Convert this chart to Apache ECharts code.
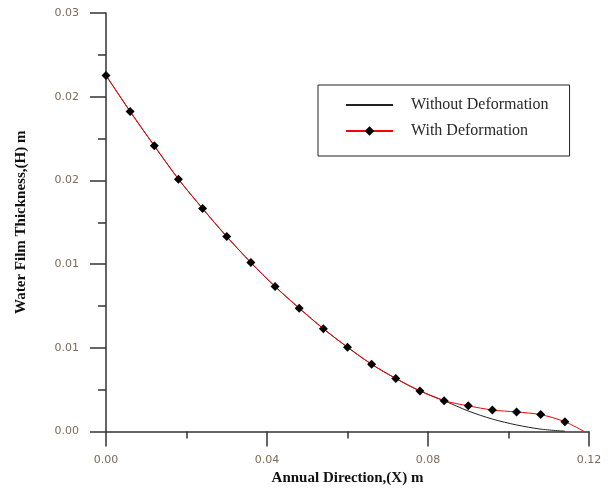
<!DOCTYPE html>
<html>
<head>
<meta charset="utf-8">
<script src="https://cdn.jsdelivr.net/npm/echarts@6/dist/echarts.min.js"></script>
<style>
  html, body { margin: 0; padding: 0; background: #fff; }
  #chart { width: 614px; height: 488px; }
</style>
</head>
<body>
<div id="chart"></div>
<script>
// Position along the annulus (m), sampled every 0.006 m
const xPositions = [0, 0.006, 0.012, 0.018, 0.024, 0.030, 0.036, 0.042, 0.048, 0.054,
                    0.060, 0.066, 0.072, 0.078, 0.084, 0.090, 0.096, 0.102, 0.108, 0.114];

// Water film thickness H (m) with elastic deformation
const withDeformation = [0.02552, 0.02294, 0.02048, 0.01809, 0.01598, 0.01397, 0.01211, 0.01039, 0.00884, 0.00737,
                         0.00604, 0.00482, 0.00380, 0.00291, 0.00221, 0.00184, 0.00154, 0.00140, 0.00121, 0.00070];
// Where the deformed film closes to zero
const withDeformationEnd = [0.1188, 0];

// Water film thickness H (m) without deformation
const withoutDeformation = [0.02552, 0.02294, 0.02048, 0.01809, 0.01598, 0.01397, 0.01211, 0.01039, 0.00884, 0.00737,
                            0.00604, 0.00482, 0.00380, 0.00291, 0.00221, 0.00147, 0.00089, 0.00047, 0.00017, 0.00002];

const xTicks = { min: 0, max: 0.12, interval: 0.04 };
const yTicks = { min: 0, max: 0.03, interval: 0.006 };

const seriesNames = ['Without Deformation', 'With Deformation'];

const chart = echarts.init(document.getElementById('chart'), null, { renderer: 'canvas' });

const withData = xPositions.map((x, i) => [x, withDeformation[i]]);
withData.push({ value: withDeformationEnd, symbol: 'none' });
const withoutData = xPositions.map((x, i) => [x, withoutDeformation[i]]);

const axisColor = '#333';
const labelStyle = { color: '#7d6a58', fontFamily: 'DejaVu Sans', fontSize: 11 };

chart.setOption({
  backgroundColor: '#fff',
  animation: false,
  grid: { left: 106, right: 25, top: 13, bottom: 56.5, containLabel: false, outerBoundsMode: 'none' },
  legend: {
    data: [
      { name: seriesNames[0], itemStyle: { opacity: 0 } },
      { name: seriesNames[1] }
    ],
    orient: 'vertical',
    left: 318,
    top: 85,
    backgroundColor: '#fff',
    borderColor: '#222',
    borderWidth: 1,
    borderRadius: 0,
    padding: [12, 21, 17, 27],
    itemWidth: 47,
    itemHeight: 12,
    itemGap: 10,
    textStyle: {
      fontFamily: 'Liberation Serif',
      fontSize: 16,
      color: '#2a2a2a',
      padding: [0, 0, 0, 13]
    }
  },
  xAxis: {
    type: 'value',
    min: xTicks.min,
    max: xTicks.max,
    interval: xTicks.interval,
    name: 'Annual Direction,(X) m',
    nameLocation: 'middle',
    nameGap: 38,
    nameTextStyle: { fontFamily: 'Liberation Serif', fontWeight: 'bold', fontSize: 15, color: '#111' },
    axisLine: { show: true, onZero: false, lineStyle: { color: axisColor, width: 1.5 } },
    axisTick: { show: true, inside: false, length: 15, lineStyle: { color: axisColor, width: 1.5 } },
    minorTick: { show: true, splitNumber: 2, length: 7, lineStyle: { color: axisColor, width: 1.5 } },
    splitLine: { show: false },
    axisLabel: Object.assign({ margin: 23, formatter: v => v.toFixed(2) }, labelStyle)
  },
  yAxis: {
    type: 'value',
    min: yTicks.min,
    max: yTicks.max,
    interval: yTicks.interval,
    name: 'Water Film Thickness,(H) m',
    nameLocation: 'middle',
    nameRotate: 90,
    nameGap: 77,
    nameTextStyle: { fontFamily: 'Liberation Serif', fontWeight: 'bold', fontSize: 15, color: '#111' },
    axisLine: { show: true, onZero: false, lineStyle: { color: axisColor, width: 1.5 } },
    axisTick: { show: true, inside: false, length: 16, lineStyle: { color: axisColor, width: 1.5 } },
    minorTick: { show: true, splitNumber: 2, length: 8, lineStyle: { color: axisColor, width: 1.5 } },
    splitLine: { show: false },
    axisLabel: Object.assign({ margin: 27, formatter: v => v.toFixed(2) }, labelStyle)
  },
  series: [
    {
      name: seriesNames[0],
      type: 'line',
      data: withoutData,
      smooth: 0.3,
      symbol: 'none',
      lineStyle: { color: '#222', width: 1 },
      itemStyle: { color: '#222' },
      z: 2
    },
    {
      name: seriesNames[1],
      type: 'line',
      data: withData,
      smooth: 0.3,
      symbol: 'diamond',
      symbolSize: 9,
      lineStyle: { color: '#f00', width: 1 },
      itemStyle: { color: '#000', borderWidth: 0 },
      z: 3
    }
  ]
});
</script>
</body>
</html>
